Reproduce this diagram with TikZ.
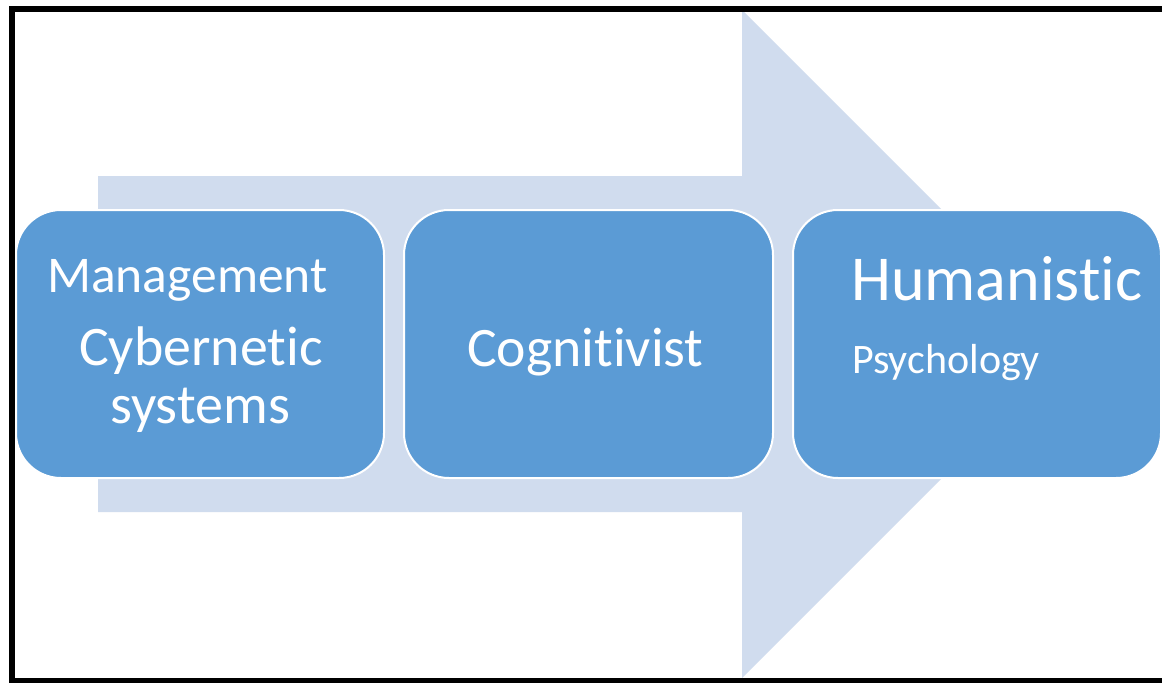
\documentclass[tikz,border=0pt]{standalone}
\usepackage{fontspec}
\setmainfont{Carlito}[Ligatures={NoCommon,NoRequired,NoContextual},RawFeature={-liga;-clig;-calt;-rlig;-dlig}]
\definecolor{boxblue}{HTML}{5B9BD5}
\definecolor{arrowblue}{HTML}{D0DCEE}
\newcommand\tbrk{t\kern0pt }
\begin{document}
\begin{tikzpicture}[x=1pt,y=-1pt,
  stagebox/.style={fill=boxblue,draw=white,line width=2pt,rounded corners=45pt},
  lbl/.style={text=white,inner sep=0pt,anchor=base west},
  framestyle/.style={draw=black,line width=6pt}]
\useasboundingbox (0,0) rectangle (1162,683);
\fill[white] (0,0) rectangle (1162,683);
% big arrow
\fill[arrowblue] (98,176) -- (742,176) -- (742,10) -- (1076,344) -- (742,678) -- (742,512) -- (98,512) -- cycle;
% frame
\draw[framestyle] (9,9) -- (1162,9);
\draw[framestyle,line width=5pt] (9,680.5) -- (1162,680.5);
\draw[framestyle] (12,6) -- (12,683);
% boxes
\path[stagebox] (16,210) rectangle (384,478);
\path[stagebox] (404,210) rectangle (773,478);
\path[stagebox] (793,210) rectangle (1161,478);
% labels
\node[lbl,font=\fontsize{51.5}{62}\selectfont] (m) at (47,292) {Management};
\node[lbl,font=\fontsize{55.8}{64}\selectfont] (c) at (79,365) {Cyberne\tbrk ic};
\node[lbl,font=\fontsize{56}{64}\selectfont] (s) at (110,423) {systems};
\node[lbl,font=\fontsize{55.7}{66}\selectfont] (g) at (467,366) {Cogni\tbrk ivist};
\node[lbl,font=\fontsize{64}{76}\selectfont] (h) at (851,300) {Humanis\tbrk ic};
\node[lbl,font=\fontsize{42}{50}\selectfont] (p) at (852,373) {Psychology};
\end{tikzpicture}
\end{document}
